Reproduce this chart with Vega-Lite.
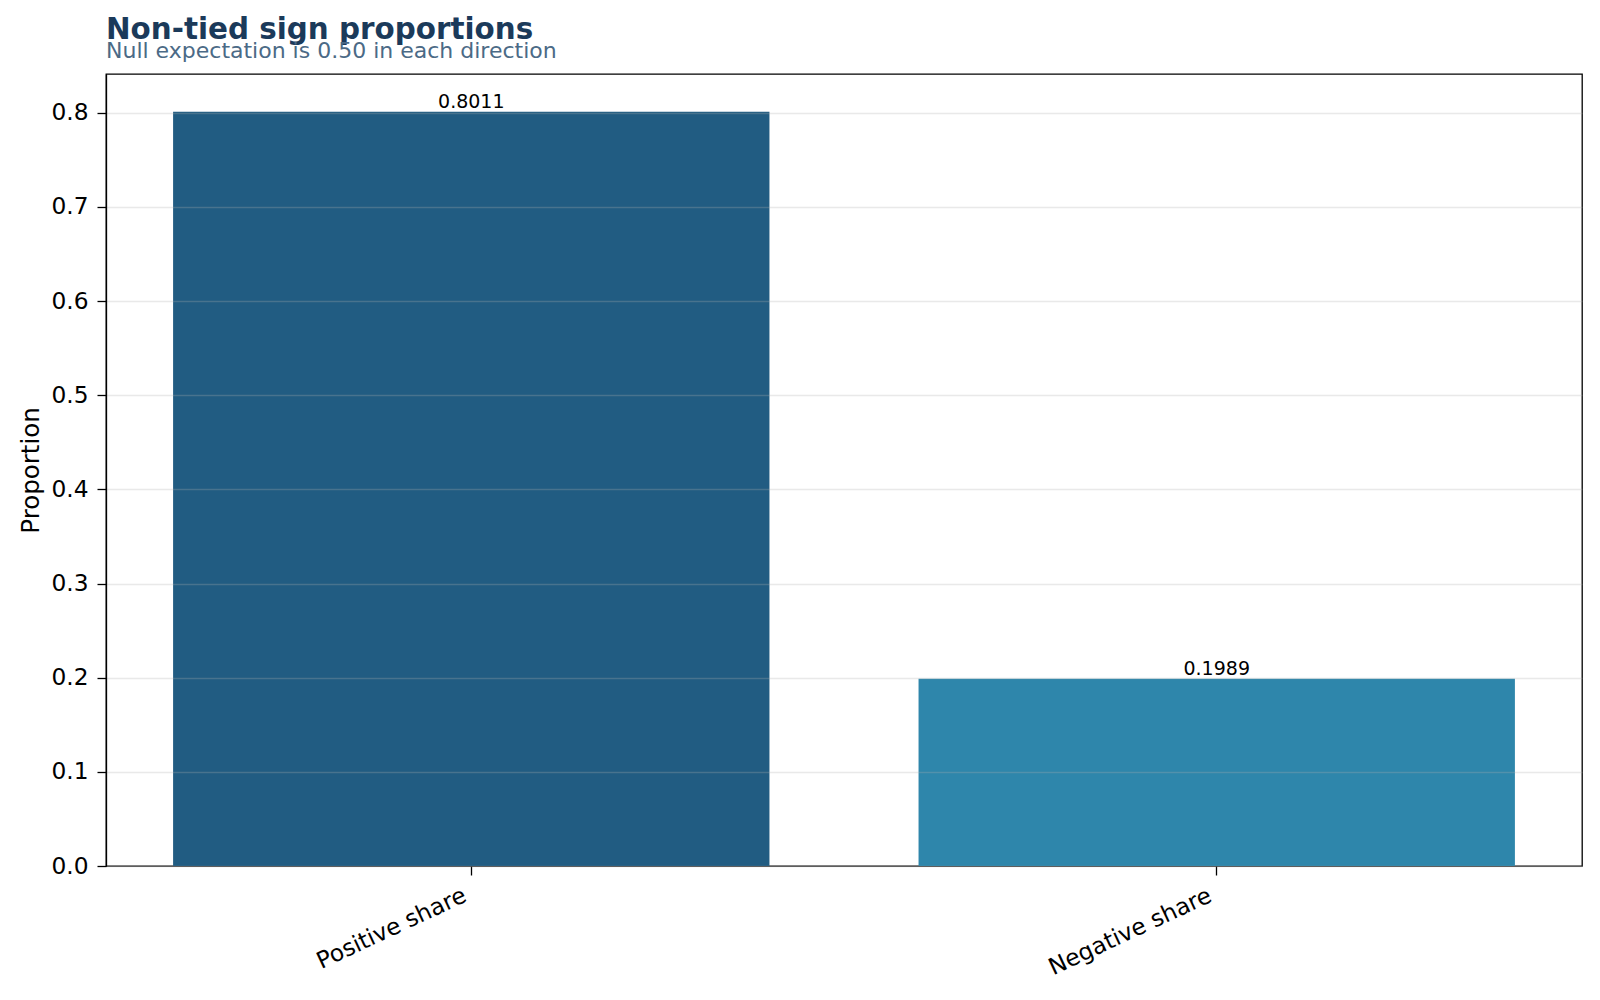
{
  "$schema": "https://vega.github.io/schema/vega-lite/v6.json",
  "autosize": {"type": "none"},
  "width": 1476,
  "height": 792,
  "padding": {"left": 106, "top": 74, "right": 18, "bottom": 134},
  "background": "white",
  "config": {
    "font": "DejaVu Sans",
    "view": {"stroke": "#000000", "strokeWidth": 1.3},
    "axis": {
      "domainColor": "#000000",
      "domainWidth": 1.3,
      "tickColor": "#000000",
      "tickWidth": 1.3,
      "tickSize": 9,
      "labelColor": "#000000",
      "titleColor": "#000000",
      "labelFont": "DejaVu Sans",
      "titleFont": "DejaVu Sans",
      "titleFontWeight": "normal"
    }
  },
  "title": {
    "text": "Non-tied sign proportions",
    "subtitle": "Null expectation is 0.50 in each direction",
    "anchor": "start",
    "frame": "group",
    "font": "DejaVu Sans",
    "fontSize": 29.4,
    "fontWeight": "bold",
    "color": "#1b3a5a",
    "subtitleFont": "DejaVu Sans",
    "subtitleFontSize": 22,
    "subtitleColor": "#4b6a86",
    "subtitlePadding": -4,
    "offset": 11
  },
  "data": {
    "values": [
      {"category": "Positive share", "proportion": 0.8011, "label": "0.8011"},
      {"category": "Negative share", "proportion": 0.1989, "label": "0.1989"}
    ]
  },
  "encoding": {
    "x": {
      "field": "category",
      "type": "nominal",
      "sort": null,
      "scale": {"paddingInner": 0.2, "paddingOuter": 0.09},
      "axis": {
        "title": null,
        "labelAngle": -25,
        "labelAlign": "right",
        "labelBaseline": "top",
        "labelFontSize": 23.3,
        "labelPadding": 9,
        "labelOffset": -11,
        "domain": false
      }
    },
    "y": {
      "field": "proportion",
      "type": "quantitative",
      "scale": {"domain": [0, 0.8412], "nice": false, "zero": true},
      "axis": {
        "title": "Proportion",
        "titleFontSize": 24.5,
        "titlePadding": 7,
        "labelFontSize": 23.3,
        "labelPadding": 9,
        "values": [0, 0.1, 0.2, 0.3, 0.4, 0.5, 0.6, 0.7, 0.8],
        "format": ".1f",
        "grid": true,
        "gridColor": "#b0b0b0",
        "gridOpacity": 0.28,
        "gridWidth": 1.3,
        "zindex": 1
      }
    }
  },
  "layer": [
    {
      "mark": {"type": "bar"},
      "encoding": {
        "color": {
          "field": "category",
          "type": "nominal",
          "sort": null,
          "scale": {"domain": ["Positive share", "Negative share"], "range": ["#215c82", "#2e86ab"]},
          "legend": null
        }
      }
    },
    {
      "mark": {"type": "text", "baseline": "alphabetic", "dy": -4, "fontSize": 19, "color": "#000000"},
      "encoding": {"text": {"field": "label"}}
    }
  ]
}
